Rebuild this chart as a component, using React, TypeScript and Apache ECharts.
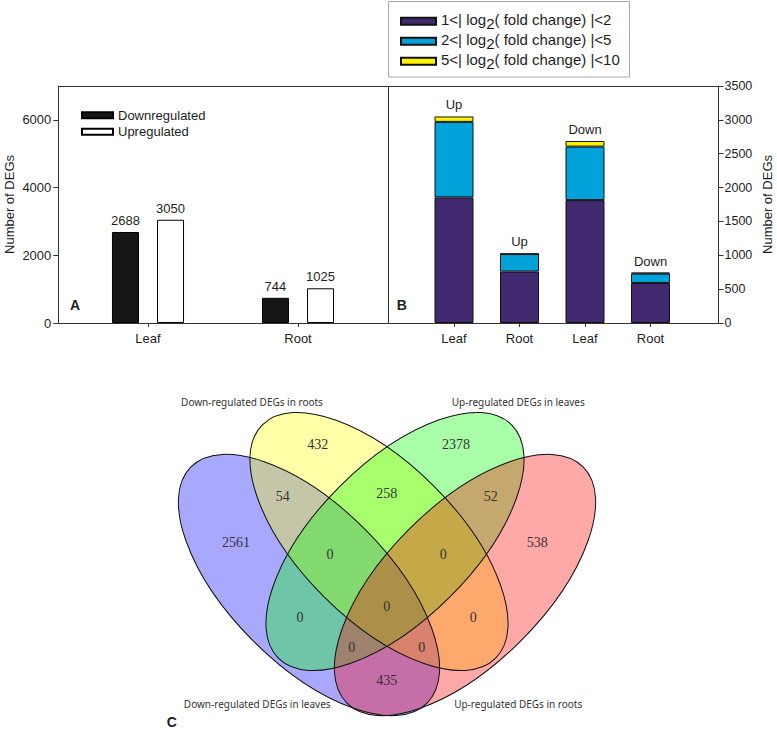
import React, { useEffect, useRef } from 'react';
import * as echarts from 'echarts';

// ---------- Panel A data ----------
const groupCategories = ['Leaf', 'Root'];
const downregulated = [2688, 744];
const upregulated = [3050, 1025];
const groupTicks = [0, 2000, 4000, 6000];

// ---------- Panel B data ----------
const stackCategories = ['Leaf', 'Root', 'Leaf', 'Root'];
const stackTags = ['Up', 'Up', 'Down', 'Down'];
const foldRangeNames = [
  '1<| log2( fold change) |<2',
  '2<| log2( fold change) |<5',
  '5<| log2( fold change) |<10',
];
const foldLow = [1855, 760, 1815, 590];
const foldMid = [1115, 258, 790, 140];
const foldHigh = [80, 7, 83, 14];

// ---------- Panel C data ----------
const vennSetNames = [
  'Down-regulated DEGs in leaves',
  'Down-regulated DEGs in roots',
  'Up-regulated DEGs in leaves',
  'Up-regulated DEGs in roots',
];
const vennSetColors = ['#0000ff', '#ffff00', '#00ff00', '#ff0000'];
// region counts, order matches vennRegionLayout below
const vennRegionCounts = [2561, 432, 2378, 538, 54, 258, 52, 0, 0, 0, 0, 0, 0, 0, 435];

// ---------- layout (pixels) ----------
const vennEllipseLayout = [
  { x: 309, y: 585, rx: 167, ry: 79, rot: -Math.PI / 4 },
  { x: 379, y: 541.5, rx: 165, ry: 78, rot: -Math.PI / 4 },
  { x: 395, y: 541.5, rx: 165, ry: 78, rot: Math.PI / 4 },
  { x: 465, y: 585, rx: 167, ry: 79, rot: Math.PI / 4 },
];
const vennRegionLayout = [
  [236, 542], [317.7, 444], [456, 444], [537.3, 542],
  [282.7, 496], [386.7, 493], [490.7, 496],
  [330, 554], [443.3, 554], [300, 617.3], [473.3, 617.3],
  [386.7, 606], [351.7, 647.3], [421.7, 647.3], [386.7, 680.7],
];
const vennLabelLayout = [
  [257.2, 704.3], [252, 401.7], [518.3, 401.7], [518.2, 704.3],
];

const SANS = '"Liberation Sans", Arial, sans-serif';
const TXT = '#1e1e1e';

export default function App() {
  const ref = useRef<HTMLDivElement>(null);

  useEffect(() => {
    document.body.style.margin = '0';
    if (!ref.current) return;
    const chart = echarts.init(ref.current, undefined, { renderer: 'svg' });

    const graphics: any[] = [];
    // frames
    graphics.push({
      type: 'rect', z: 10, silent: true,
      shape: { x: 58.5, y: 86.5, width: 660, height: 237 },
      style: { fill: 'none', stroke: '#333', lineWidth: 1 },
    });
    graphics.push({
      type: 'line', z: 10, silent: true,
      shape: { x1: 388.5, y1: 86.5, x2: 388.5, y2: 323.5 },
      style: { stroke: '#333', lineWidth: 1 },
    });
    graphics.push({
      type: 'rect', silent: true,
      shape: { x: 388.5, y: 1.5, width: 241, height: 75.5 },
      style: { fill: '#fff', stroke: '#a8a8a8', lineWidth: 1 },
    });
    const panelLabel = (t: string, x: number, y: number) => ({
      type: 'text', x, y, z: 20,
      style: { text: t, font: 'bold 14px ' + SANS, fill: TXT, textAlign: 'center', textVerticalAlign: 'middle' },
    });
    graphics.push(panelLabel('A', 75, 305));
    graphics.push(panelLabel('B', 401.7, 305));
    graphics.push(panelLabel('C', 171.7, 721.7));

    // venn fills
    vennEllipseLayout.forEach((e, i) => {
      graphics.push({
        type: 'ellipse', x: e.x, y: e.y, rotation: e.rot, silent: true, z: 1,
        shape: { cx: 0, cy: 0, rx: e.rx, ry: e.ry },
        style: { fill: vennSetColors[i], opacity: 0.34 },
      });
    });
    // venn outlines
    vennEllipseLayout.forEach((e) => {
      graphics.push({
        type: 'ellipse', x: e.x, y: e.y, rotation: e.rot, silent: true, z: 2,
        shape: { cx: 0, cy: 0, rx: e.rx, ry: e.ry },
        style: { fill: 'none', stroke: '#111', lineWidth: 1 },
      });
    });
    vennRegionCounts.forEach((c, i) => {
      const [x, y] = vennRegionLayout[i];
      graphics.push({
        type: 'text', x, y, z: 3,
        style: { text: String(c), font: '14px "Liberation Serif", serif', fill: '#333', textAlign: 'center', textVerticalAlign: 'middle' },
      });
    });
    vennSetNames.forEach((n, i) => {
      const [x, y] = vennLabelLayout[i];
      graphics.push({
        type: 'text', x, y, z: 3,
        style: { text: n, font: '10px "Noto Sans", sans-serif', fill: '#333', textAlign: 'center', textVerticalAlign: 'middle' },
      });
    });

    const axisLine = { show: true, lineStyle: { color: '#333', width: 1 } };
    const labelStyle = { fontSize: 13, color: TXT, fontFamily: SANS };
    const plain = (v: number) => String(v);

    const option: any = {
      animation: false,
      textStyle: { fontFamily: SANS },
      grid: [
        { left: 73, top: 86, width: 300, height: 237 },
        { left: 421.25, top: 86, width: 262, height: 237 },
      ],
      xAxis: [
        {
          type: 'category', gridIndex: 0, data: groupCategories,
          axisLine, axisTick: { show: true, alignWithLabel: true, length: 4, lineStyle: { color: '#333' } },
          axisLabel: { ...labelStyle, margin: 9 },
        },
        {
          type: 'category', gridIndex: 1, data: stackCategories,
          axisLine, axisTick: { show: true, alignWithLabel: true, length: 4, lineStyle: { color: '#333' } },
          axisLabel: { ...labelStyle, margin: 9 },
        },
      ],
      yAxis: [
        {
          type: 'value', gridIndex: 0, min: 0, max: 7000, offset: 14.7,
          axisLine, splitLine: { show: false },
          axisTick: { show: true, length: 5, customValues: groupTicks, lineStyle: { color: '#333' } },
          axisLabel: { ...labelStyle, margin: 7, customValues: groupTicks, formatter: plain },
          name: 'Number of DEGs', nameLocation: 'middle', nameGap: 42, nameRotate: 90,
          nameTextStyle: { fontSize: 13, color: TXT, fontFamily: SANS },
        },
        {
          type: 'value', gridIndex: 1, position: 'right', min: 0, max: 3500, interval: 500, offset: 35.25,
          axisLine, splitLine: { show: false },
          axisTick: { show: true, length: 5, lineStyle: { color: '#333' } },
          axisLabel: { ...labelStyle, fontSize: 12.5, margin: 6, formatter: plain },
          name: 'Number of DEGs', nameLocation: 'middle', nameGap: 42, nameRotate: 90,
          nameTextStyle: { fontSize: 13, color: TXT, fontFamily: SANS },
        },
      ],
      legend: [
        {
          data: ['Downregulated', 'Upregulated'], orient: 'vertical', left: 76, top: 103.8,
          itemWidth: 31, itemHeight: 6, itemGap: 3.4, selectedMode: false, icon: 'rect',
          textStyle: { fontSize: 13, color: TXT, lineHeight: 13, fontFamily: SANS },
        },
        {
          data: foldRangeNames, orient: 'vertical', left: 395, top: 6.8,
          itemWidth: 35, itemHeight: 7, itemGap: 1, selectedMode: false, icon: 'rect',
          formatter: (name: string) => {
            const [pre, post] = name.split('log2');
            return `{a|${pre}log}{s|2}{a|${post}}`;
          },
          textStyle: {
            color: TXT, fontSize: 15, fontFamily: SANS,
            rich: {
              a: { fontSize: 15, lineHeight: 16, color: TXT, fontFamily: SANS, padding: [0, 0, 4, 0], verticalAlign: 'middle' },
              s: { fontSize: 15, lineHeight: 16, color: TXT, fontFamily: SANS, padding: [4, 0, 0, 0], verticalAlign: 'middle' },
            },
          },
        },
      ],
      series: [
        {
          type: 'bar', name: 'Downregulated', xAxisIndex: 0, yAxisIndex: 0, data: downregulated,
          barWidth: 27, barGap: '67%',
          itemStyle: { color: '#161616', borderColor: '#000', borderWidth: 1 },
          label: { show: true, position: 'top', distance: 5, fontSize: 13, color: TXT, fontFamily: SANS },
        },
        {
          type: 'bar', name: 'Upregulated', xAxisIndex: 0, yAxisIndex: 0, data: upregulated,
          barWidth: 27, barGap: '67%',
          itemStyle: { color: '#ffffff', borderColor: '#000', borderWidth: 1 },
          label: { show: true, position: 'top', distance: 5, fontSize: 13, color: TXT, fontFamily: SANS },
        },
        {
          type: 'bar', name: foldRangeNames[0], xAxisIndex: 1, yAxisIndex: 1, stack: 'fc', data: foldLow,
          barWidth: 39, itemStyle: { color: '#40296f', borderColor: '#111', borderWidth: 1 },
        },
        {
          type: 'bar', name: foldRangeNames[1], xAxisIndex: 1, yAxisIndex: 1, stack: 'fc', data: foldMid,
          barWidth: 39, itemStyle: { color: '#00a2d9', borderColor: '#111', borderWidth: 1 },
        },
        {
          type: 'bar', name: foldRangeNames[2], xAxisIndex: 1, yAxisIndex: 1, stack: 'fc', data: foldHigh,
          barWidth: 39, itemStyle: { color: '#fff200', borderColor: '#111', borderWidth: 1 },
          label: {
            show: true, position: 'top', distance: 5, fontSize: 13, color: TXT, fontFamily: SANS,
            formatter: (p: any) => stackTags[p.dataIndex],
          },
        },
      ],
      graphic: { elements: graphics },
    };

    chart.setOption(option);
    return () => chart.dispose();
  }, []);

  return <div ref={ref} style={{ width: 777, height: 731 }} />;
}
